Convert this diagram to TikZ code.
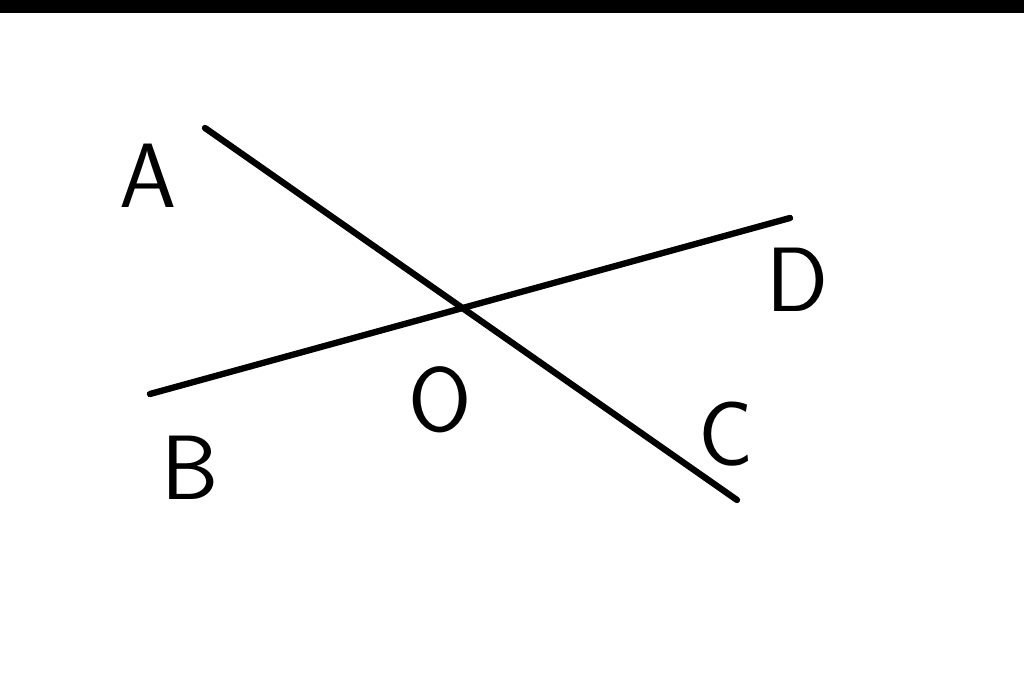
\documentclass[tikz,border=0pt]{standalone}
\usepackage{tikz}
\usetikzlibrary{calc,positioning}

\tikzset{seg/.style={line width=1.8pt,line cap=round},
  lbl/.style={font=\fontsize{26}{26}\selectfont\sffamily}}

\begin{document}
\begin{tikzpicture}[x=0.01cm,y=0.01cm]
\useasboundingbox (0,0) rectangle (1024,694);
\fill[black] (0,681) rectangle (1024,694);
\coordinate (pA) at (205,566);
\coordinate (pC) at (737,194);
\coordinate (pB) at (150,300);
\coordinate (pD) at (790,476);
\draw[seg] (pA) to (pC);
\draw[seg] (pB) to (pD);
\node[lbl] (a) at (148,518) {A};
\node[lbl] (b) at (190,226) {B};
\node[lbl] (c) at (726,260) {C};
\node[lbl] (d) at (797,414) {D};
\node[lbl] (o) at (440,294) {O};
\end{tikzpicture}
\end{document}
